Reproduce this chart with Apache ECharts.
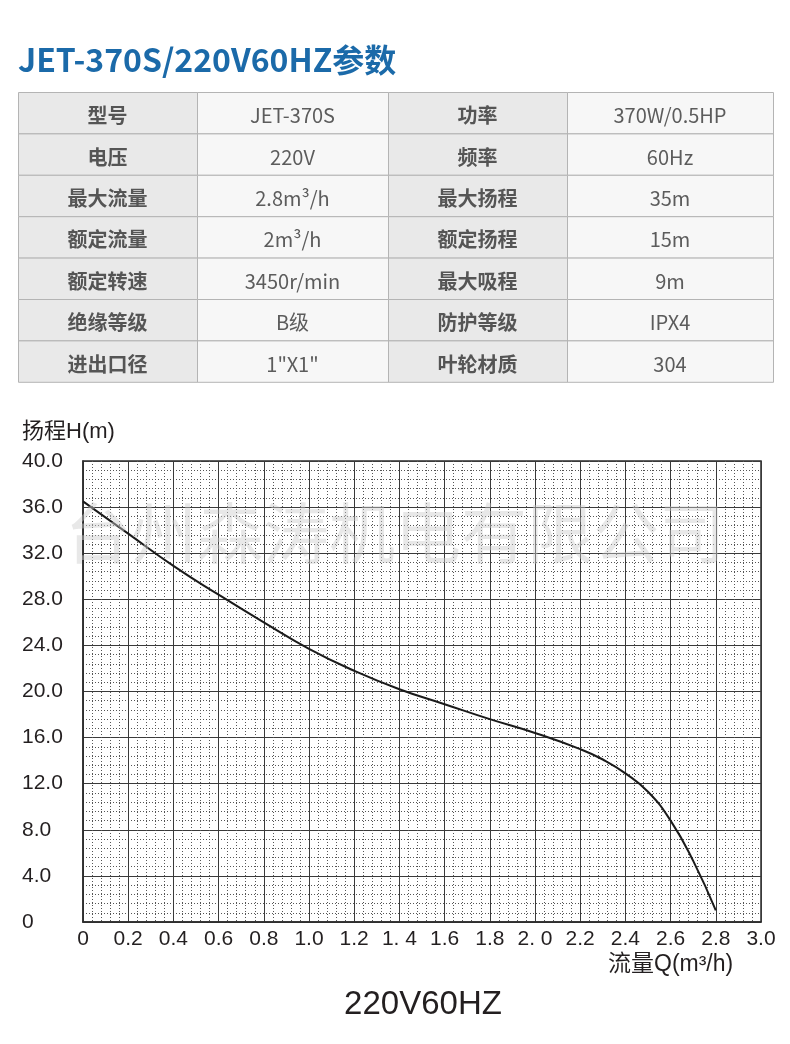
<!DOCTYPE html>
<html>
<head>
<meta charset="utf-8">
<script src="https://cdn.jsdelivr.net/npm/echarts@6/dist/echarts.min.js"></script>
<style>
html,body{margin:0;padding:0;background:#fff;}
#c{width:790px;height:1044px;}
</style>
</head>
<body>
<div id="c"></div>
<script>
// ---- data ----
var titleText = 'JET-370S/220V60HZ参数';
var tableLabelsL = ['型号','电压','最大流量','额定流量','额定转速','绝缘等级','进出口径'];
var tableValuesL = ['JET-370S','220V','2.8m³/h','2m³/h','3450r/min','B级','1"X1"'];
var tableLabelsR = ['功率','频率','最大扬程','额定扬程','最大吸程','防护等级','叶轮材质'];
var tableValuesR = ['370W/0.5HP','60Hz','35m','15m','9m','IPX4','304'];

var flowQ = [0, 0.2, 0.4, 0.6, 0.8, 1.0, 1.2, 1.4, 1.6, 1.8, 2.0, 2.2, 2.3, 2.4, 2.5, 2.6, 2.7, 2.8];
var headH = [36.5, 33.7, 30.9, 28.4, 26.0, 23.7, 21.8, 20.2, 18.9, 17.6, 16.4, 15.0, 14.1, 12.9, 11.3, 8.8, 5.3, 1.0];

var xTickLabels = ['0','0.2','0.4','0.6','0.8','1.0','1.2','1. 4','1.6','1.8','2. 0','2.2','2.4','2.6','2.8','3.0'];
var yTickLabels = ['0','4.0','8.0','12.0','16.0','20.0','24.0','28.0','32.0','36.0','40.0'];

var yAxisName = '扬程H(m)';
var xAxisName = '流量Q(m³/h)';
var bottomTitle = '220V60HZ';
var watermark = '台州森涛机电有限公司';

// ---- layout ----
var colX = [18, 197, 388, 567, 773];
var rowTop = 92, rowH = 41.4;
var cjk = '"Noto Sans CJK SC", "Noto Sans", sans-serif';
var latin = '"Liberation Sans", Arial, "Noto Sans CJK SC", sans-serif';

var graphics = [];
graphics.push({
  type: 'text', left: 18, top: 44, z: 10,
  style: { text: titleText, font: 'bold 32px ' + cjk, fill: '#1b6aa9' }
});

var cols = [tableLabelsL, tableValuesL, tableLabelsR, tableValuesR];
for (var r = 0; r < 7; r++) {
  for (var c = 0; c < 4; c++) {
    var isLabel = (c % 2 === 0);
    var x0 = colX[c], x1 = colX[c + 1];
    var y0 = rowTop + r * rowH;
    graphics.push({
      type: 'rect', z: 1,
      shape: { x: x0 + 0.5, y: y0 + 0.5, width: x1 - x0, height: rowH },
      style: { fill: isLabel ? '#e9e9e9' : '#f7f7f7', stroke: '#b4b4b4', lineWidth: 1 }
    });
    graphics.push({
      type: 'text', z: 2,
      x: (x0 + x1) / 2, y: y0 + rowH / 2 + 3,
      style: {
        text: cols[c][r],
        font: (isLabel ? 'bold 20px ' : 'normal 20px ') + cjk,
        fill: isLabel ? '#555555' : '#5c5c5c',
        align: 'center', verticalAlign: 'middle'
      }
    });
  }
}

graphics.push({
  type: 'text', x: 22, y: 432, z: 10,
  style: { text: yAxisName, font: '22px ' + latin, fill: '#231f20', verticalAlign: 'middle' }
});
graphics.push({
  type: 'text', x: 608, y: 965, z: 10,
  style: { text: xAxisName, font: '23px ' + latin, fill: '#231f20', verticalAlign: 'middle' }
});
graphics.push({
  type: 'text', x: 423, y: 1005, z: 10,
  style: { text: bottomTitle, font: '33px ' + latin, fill: '#231f20', align: 'center', verticalAlign: 'middle' }
});
graphics.push({
  type: 'text', x: 395, y: 533, z: 20,
  style: { text: watermark, font: '66px ' + cjk, fill: 'rgba(205,205,205,0.45)', align: 'center', verticalAlign: 'middle' }
});

var chart = echarts.init(document.getElementById('c'), null, { renderer: 'canvas' });
chart.setOption({
  backgroundColor: '#ffffff',
  animation: false,
  grid: { left: 83, right: 29, top: 461, bottom: 122, show: true, borderColor: '#2b2b2b', borderWidth: 1.5, backgroundColor: 'transparent' },
  xAxis: {
    type: 'value', min: 0, max: 3, interval: 0.2,
    axisLine: { show: true, lineStyle: { color: '#2b2b2b', width: 1.5 } },
    axisTick: { show: false },
    minorTick: { show: false, splitNumber: 5 },
    minorSplitLine: { show: true, lineStyle: { color: '#555', width: 1, type: [1, 2] } },
    splitLine: { show: true, lineStyle: { color: '#3a3a3a', width: 1 } },
    axisLabel: {
      margin: 7, color: '#231f20', fontSize: 21, fontFamily: 'Liberation Sans',
      formatter: function (v) { return xTickLabels[Math.round(v / 0.2)]; }
    }
  },
  yAxis: {
    type: 'value', min: 0, max: 40, interval: 4,
    axisLine: { show: true, lineStyle: { color: '#2b2b2b', width: 1.5 } },
    axisTick: { show: false },
    minorTick: { show: false, splitNumber: 5 },
    minorSplitLine: { show: true, lineStyle: { color: '#555', width: 1, type: [1, 2] } },
    splitLine: { show: true, lineStyle: { color: '#3a3a3a', width: 1 } },
    axisLabel: {
      margin: 61, align: 'left', color: '#231f20', fontSize: 21, fontFamily: 'Liberation Sans',
      formatter: function (v) { return yTickLabels[Math.round(v / 4)]; }
    }
  },
  series: [{
    type: 'line',
    data: flowQ.map(function (q, i) { return [q, headH[i]]; }),
    smooth: 0.5,
    symbol: 'none',
    lineStyle: { color: '#1a1a1a', width: 2 },
    z: 5
  }],
  graphic: graphics
});
</script>
</body>
</html>
